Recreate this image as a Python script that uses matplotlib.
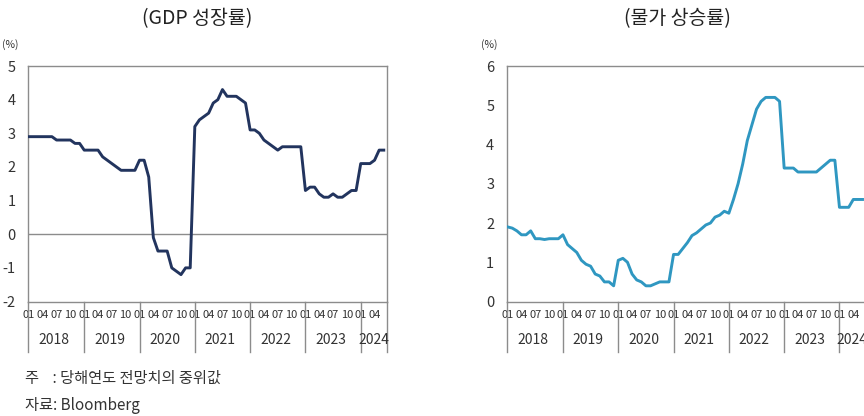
import matplotlib.pyplot as plt
from matplotlib.transforms import blended_transform_factory

plt.rcParams['font.family'] = ['Noto Sans CJK KR', 'DejaVu Sans']
plt.rcParams['axes.unicode_minus'] = False

# monthly data, 2018-01 .. 2024-06
years = ['2018', '2019', '2020', '2021', '2022', '2023', '2024']
month_labels = ['01', '04', '07', '10']

gdp = [2.9, 2.9, 2.9, 2.9, 2.9, 2.9, 2.8, 2.8, 2.8, 2.8, 2.7, 2.7,
       2.5, 2.5, 2.5, 2.5, 2.3, 2.2, 2.1, 2.0, 1.9, 1.9, 1.9, 1.9,
       2.2, 2.2, 1.7, -0.1, -0.5, -0.5, -0.5, -1.0, -1.1, -1.2, -1.0, -1.0,
       3.2, 3.4, 3.5, 3.6, 3.9, 4.0, 4.3, 4.1, 4.1, 4.1, 4.0, 3.9,
       3.1, 3.1, 3.0, 2.8, 2.7, 2.6, 2.5, 2.6, 2.6, 2.6, 2.6, 2.6,
       1.3, 1.4, 1.4, 1.2, 1.1, 1.1, 1.2, 1.1, 1.1, 1.2, 1.3, 1.3,
       2.1, 2.1, 2.1, 2.2, 2.5, 2.5]

cpi = [1.9, 1.87, 1.8, 1.7, 1.7, 1.8, 1.6, 1.6, 1.58, 1.6, 1.6, 1.6,
       1.7, 1.45, 1.35, 1.25, 1.05, 0.95, 0.9, 0.7, 0.65, 0.5, 0.5, 0.4,
       1.05, 1.1, 1.0, 0.7, 0.55, 0.5, 0.4, 0.4, 0.45, 0.5, 0.5, 0.5,
       1.2, 1.2, 1.35, 1.5, 1.68, 1.75, 1.85, 1.95, 2.0, 2.15, 2.2, 2.3,
       2.25, 2.6, 3.0, 3.5, 4.1, 4.5, 4.9, 5.1, 5.2, 5.2, 5.2, 5.1,
       3.4, 3.4, 3.4, 3.3, 3.3, 3.3, 3.3, 3.3, 3.4, 3.5, 3.6, 3.6,
       2.4, 2.4, 2.4, 2.6, 2.6, 2.6]

fig = plt.figure(figsize=(8.64, 4.16), dpi=100)

frame_col = '#8c8c8c'
text_col = '#333333'


def setup(ax, data, color, ylim, yticks, title, title_x):
    x = list(range(len(data)))
    ax.plot(x, data, color=color, lw=2.1, solid_joinstyle='round', zorder=3)
    ax.set_xlim(-0.2, 77.7)
    ax.set_ylim(*ylim)
    ax.set_yticks(yticks)
    ax.set_yticklabels([str(t) for t in yticks], fontsize=10.5, color=text_col)
    ax.tick_params(axis='y', length=0, pad=9)
    for s in ax.spines.values():
        s.set_color(frame_col)
        s.set_linewidth(1.0)

    # month tick labels
    pos = []
    labs = []
    for k in range(len(years)):
        for j, m in enumerate(month_labels):
            p = 12 * k + 3 * j
            if p <= 77:
                pos.append(p)
                labs.append(m)
    ax.set_xticks(pos)
    ax.set_xticklabels(labs, fontsize=8.0, color=text_col)
    ax.tick_params(axis='x', length=0, pad=6)

    trans = blended_transform_factory(ax.transData, ax.transAxes)
    bounds = [12 * k for k in range(len(years))] + [77.7]
    for b in bounds:
        bx = b - 0.2 if b == 0 else b
        ax.plot([bx, bx], [0, -0.215], transform=trans, color=frame_col,
                lw=1.0, clip_on=False)
    for k, yr in enumerate(years):
        if k < len(years) - 1:
            c = 12 * k + 5.5
        else:
            c = 74.8
        ax.text(c, -0.165, yr, transform=trans, ha='center', va='center',
                fontsize=10, color=text_col)

    ax.text(-0.05, 1.09, '(%)', transform=ax.transAxes, ha='center',
            va='center', fontsize=7.5, color=text_col)
    fig.text(title_x, 0.955, title, ha='center', va='center', fontsize=14,
             color='#222222')


ax1 = fig.add_axes([0.0324, 0.2752, 0.4155, 0.5661])
setup(ax1, gdp, '#22345e', (-2, 5), list(range(-2, 6)), '(GDP 성장률)', 197 / 864)
ax1.axhline(0, color=frame_col, lw=1.0, zorder=2)

ax2 = fig.add_axes([0.5865, 0.2752, 0.4155, 0.5661])
setup(ax2, cpi, '#2f97c1', (0, 6), list(range(0, 7)), '(물가 상승률)', 677 / 864)

fig.text(25 / 864, 1 - 378 / 416, '주    : 당해연도 전망치의 중위값', ha='left',
         va='center', fontsize=11, color=text_col)
fig.text(25 / 864, 1 - 405 / 416, '자료: Bloomberg', ha='left', va='center',
         fontsize=11, color=text_col)

fig.savefig('out.png', dpi=100)
